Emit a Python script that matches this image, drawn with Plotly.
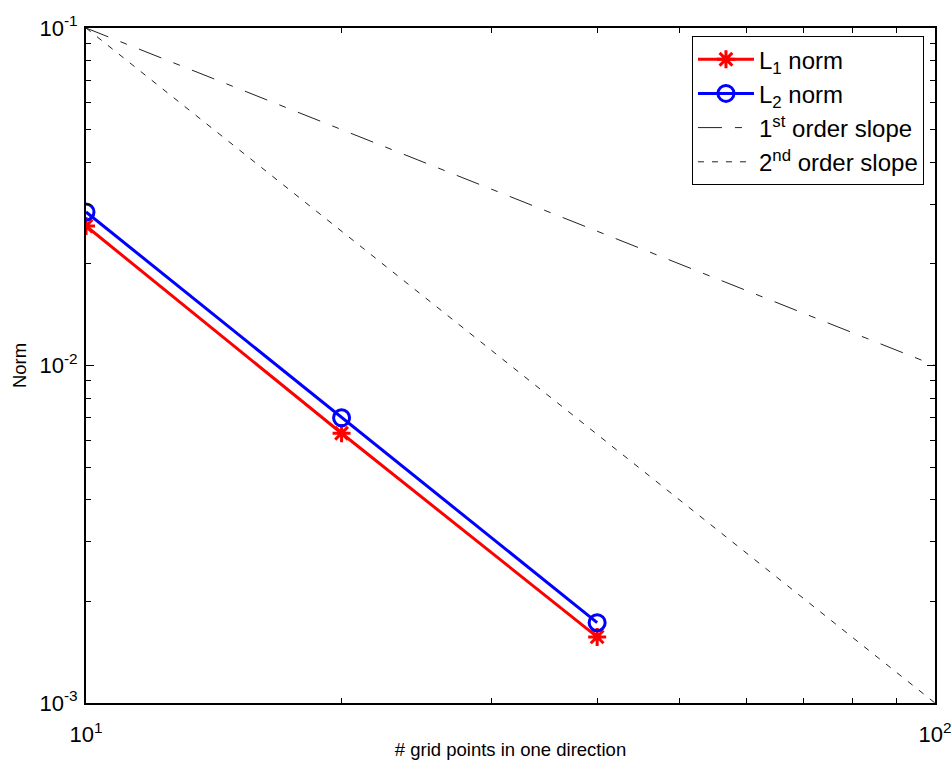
import plotly.graph_objects as go

# Grid resolution (points per direction)
grid_points = [10, 20, 40]

# Error norms measured at each resolution
l1_norm = [0.0259, 0.0063, 0.00157]
l2_norm = [0.0285, 0.0070, 0.00173]

# Reference slope lines
slope_x = [10, 100]
first_order = [0.1, 0.01]
second_order = [0.1, 0.001]

x_tick_vals = [10, 100]
x_tick_text = ["10<sup>1</sup>", "10<sup>2</sup>"]
y_tick_vals = [0.001, 0.01, 0.1]
y_tick_text = ["10<sup>-3</sup>", "10<sup>-2</sup>", "10<sup>-1</sup>"]

x_minor = [20, 30, 40, 50, 60, 70, 80, 90]
y_minor = [k * 10 ** e for e in (-3, -2) for k in range(2, 10)]

FONT = "Arial, Liberation Sans, sans-serif"

fig = go.Figure()

fig.add_trace(go.Scatter(
    x=grid_points, y=l1_norm, mode="lines+markers", name="L<sub>1</sub> norm",
    line=dict(color="#ff0000", width=3),
    marker=dict(symbol="asterisk-open", size=15, color="#ff0000",
                line=dict(color="#ff0000", width=3)),
))
fig.add_trace(go.Scatter(
    x=grid_points, y=l2_norm, mode="lines+markers", name="L<sub>2</sub> norm",
    line=dict(color="#0000ff", width=3),
    marker=dict(symbol="circle-open", size=16, color="#0000ff",
                line=dict(color="#0000ff", width=3)),
))
fig.add_trace(go.Scatter(
    x=slope_x, y=first_order, mode="lines", name="1<sup>st</sup> order slope",
    line=dict(color="#222222", width=1, dash="24px,13px,7px,13px"),
))
fig.add_trace(go.Scatter(
    x=slope_x, y=second_order, mode="lines", name="2<sup>nd</sup> order slope",
    line=dict(color="#222222", width=1, dash="6px,8px"),
))

tick_font = dict(family=FONT, size=22, color="black")
title_font = dict(family=FONT, size=18.5, color="black")

fig.update_xaxes(
    type="log", range=[1, 2], automargin=False,
    tickmode="array", tickvals=x_tick_vals, ticktext=x_tick_text,
    ticks="inside", ticklen=8, tickcolor="black", tickwidth=1,
    ticklabelstandoff=11, ticklabeloverflow="allow",
    minor=dict(tickmode="array", tickvals=x_minor, ticks="inside",
               ticklen=5, tickcolor="black", showgrid=False),
    showline=True, linecolor="black", linewidth=2, mirror="allticks",
    showgrid=False, zeroline=False, tickfont=tick_font,
    title=dict(text="# grid points in one direction", font=title_font, standoff=0),
)
fig.update_yaxes(
    type="log", range=[-3, -1], automargin=False,
    tickmode="array", tickvals=y_tick_vals, ticktext=y_tick_text,
    ticks="inside", ticklen=8, tickcolor="black", tickwidth=1,
    ticklabelstandoff=2, ticklabeloverflow="allow",
    minor=dict(tickmode="array", tickvals=y_minor, ticks="inside",
               ticklen=5, tickcolor="black", showgrid=False),
    showline=True, linecolor="black", linewidth=2, mirror="allticks",
    showgrid=False, zeroline=False, tickfont=tick_font,
    title=dict(text="Norm", font=title_font, standoff=8),
)

fig.update_layout(
    width=951, height=760,
    margin=dict(l=86, r=16, t=28, b=57),
    paper_bgcolor="white", plot_bgcolor="white",
    showlegend=True,
    legend=dict(
        x=0.987, y=0.988, xanchor="right", yanchor="top",
        bgcolor="white", bordercolor="black", borderwidth=1,
        font=dict(family=FONT, size=24, color="black"),
        itemwidth=56, tracegroupgap=0,
    ),
)

fig.write_html("out.html")
